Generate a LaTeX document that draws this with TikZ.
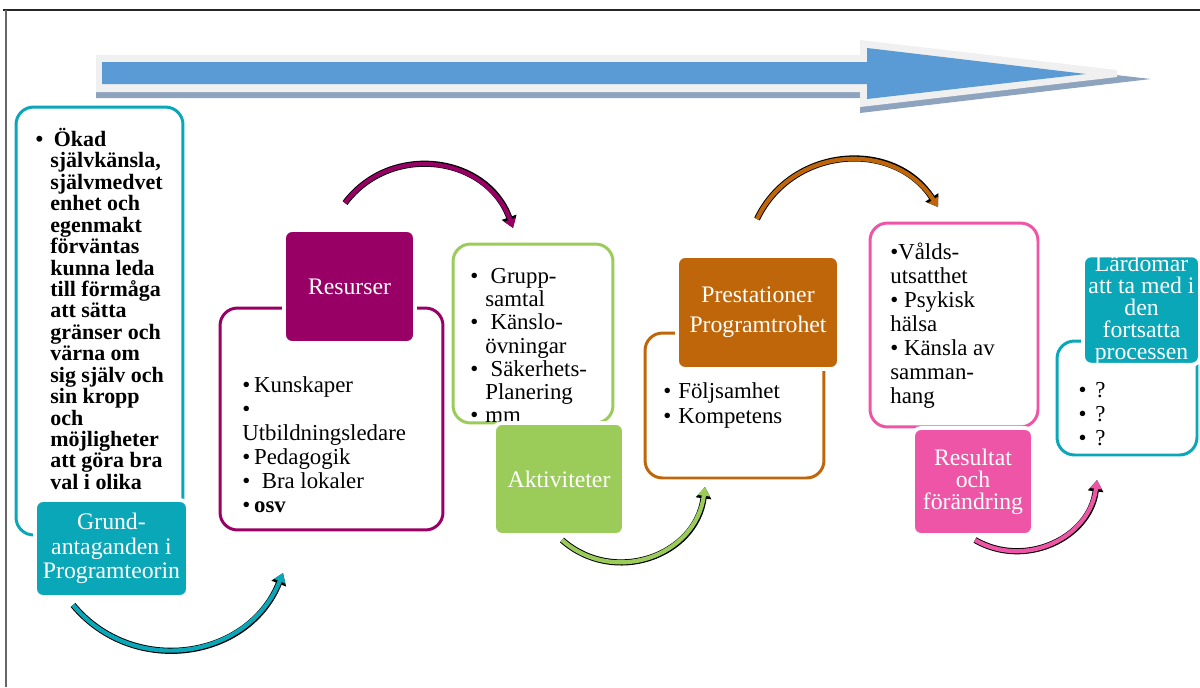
\documentclass[tikz,border=0pt]{standalone}
\usepackage{fontspec}
\setmainfont{Liberation Serif}
\usepackage{tikz}
\usetikzlibrary{calc}
\usetikzlibrary{arrows.meta}

\definecolor{tealc}{HTML}{0AA7B8}
\definecolor{plum}{HTML}{990066}
\definecolor{leaf}{HTML}{9BCB59}
\definecolor{rust}{HTML}{C0660A}
\definecolor{rose}{HTML}{EE55A6}
\definecolor{arrowblue}{HTML}{5B9BD5}
\definecolor{arrowrim}{HTML}{F0F0F0}
\definecolor{arrowshade}{HTML}{8EA4BE}

\newcommand{\ts}{\rule{0pt}{12pt}}
\newcommand{\bul}{\llap{\textbullet\hspace{4pt}}}

\begin{document}
\begin{tikzpicture}[x=0.02cm, y=-0.02cm,
  outline/.style={draw=#1, line width=1.7pt, rounded corners=0.35cm, fill=white, inner sep=0pt},
  tagbox/.style={fill=#1, draw=white, line width=2.2pt, rounded corners=0.16cm, text=white,
    align=center, inner sep=0pt, font=\fontsize{13.5}{14}\selectfont},
  itemtext/.style={anchor=north west, inner sep=0pt, align=left},
  bendarrow/.style={draw=#1, line width=2.4pt, -{Triangle[length=5pt,width=6.5pt]},
    preaction={draw=black, line width=3.5pt, -{Triangle[length=6.5pt,width=8.5pt]}}}]

\useasboundingbox (0,0) rectangle (1200,687);

\draw[line width=1pt, black!85] (3,10) -- (1200,10);
\draw[line width=1pt, black!60] (6,10) -- (6,687);

\fill[arrowshade] (96,62) -- (860,62) -- (860,46) -- (1151,79) -- (860,113) -- (860,98) -- (96,98) -- cycle;
\fill[arrowrim] (96,55) -- (860,55) -- (860,40) -- (1117,70) -- (1117,77) -- (860,107) -- (860,92) -- (96,92) -- cycle;
\fill[arrowblue] (102,62) -- (867,62) -- (867,48) -- (1086,74) -- (867,99) -- (867,84) -- (102,84) -- cycle;

\coordinate (g0) at (73,605);
\coordinate (g1) at (283,573);
\coordinate (r0) at (345,203);
\coordinate (r1) at (513,228);
\coordinate (a0) at (562,540);
\coordinate (a1) at (705,487);
\coordinate (p0) at (757,219);
\coordinate (p1) at (938,207);
\coordinate (e0) at (975,540);
\coordinate (e1) at (1097,480);

\draw[bendarrow=tealc] (g0) .. controls (133,677) and (248,660) .. (g1);
\draw[bendarrow=plum] (r0) .. controls (391,142) and (487,156) .. (r1);
\draw[bendarrow=leaf] (a0) .. controls (614,586) and (696,556) .. (a1);
\draw[bendarrow=rust] (p0) .. controls (792,146) and (894,139) .. (p1);
\draw[bendarrow=rose] (e0) .. controls (1025,569) and (1090,538) .. (e1);

\node[outline=tealc, minimum width=3.34cm, minimum height=8.56cm] (grundbox) at (99.5,321) {};
\node[outline=plum, minimum width=4.46cm, minimum height=4.44cm] (resbox) at (331.5,419) {};
\node[outline=leaf, minimum width=3.2cm, minimum height=3.58cm] (aktbox) at (533,333.5) {};
\node[outline=rust, minimum width=3.58cm, minimum height=2.9cm] (prebox) at (734.5,405.5) {};
\node[outline=rose, minimum width=3.36cm, minimum height=4.08cm] (resultbox) at (954,325) {};
\node[outline=tealc, minimum width=2.8cm, minimum height=2.28cm] (larbox) at (1127,398) {};

\node[itemtext, font=\fontsize{12.5}{12.2}\selectfont\bfseries] (grundtext) at (50,125)
  {\ts\bul\hspace{2pt}Ökad\\självkänsla,\\självmedvet\\enhet och\\egenmakt\\förväntas\\kunna leda\\till förmåga\\att sätta\\gränser och\\värna om\\sig själv och\\sin kropp\\och\\möjligheter\\att göra bra\\val i olika};
\node[itemtext, font=\fontsize{13}{13.7}\selectfont] (restext) at (242,371)
  {\ts\textbullet\,Kunskaper\\\textbullet\\Utbildningsledare\\\textbullet\,Pedagogik\\\textbullet\ \ Bra lokaler\\\textbullet\,\textbf{osv}};
\node[itemtext, font=\fontsize{13}{13.2}\selectfont] (akttext) at (485,262)
  {\ts\bul\hspace{3pt}Grupp-\\samtal\\\bul\hspace{3pt}Känslo-\\övningar\\\bul\hspace{3pt}Säkerhets-\\Planering\\\bul mm};
\node[itemtext, font=\fontsize{13}{14.2}\selectfont] (pretext) at (678,377)
  {\ts\bul Följsamhet\\\bul Kompetens};
\node[itemtext, font=\fontsize{13}{13.7}\selectfont] (resulttext) at (890,238)
  {\ts\textbullet Vålds-\\utsatthet\\\textbullet\ Psykisk\\hälsa\\\textbullet\ Känsla av\\samman-\\hang};
\node[itemtext, font=\fontsize{13}{13.6}\selectfont] (lartext) at (1095,376)
  {\ts\llap{\textbullet\hspace{5pt}}?\\\llap{\textbullet\hspace{5pt}}?\\\llap{\textbullet\hspace{5pt}}?};

\node[tagbox=tealc, minimum width=3.06cm, minimum height=1.94cm] (grundlbl) at (111.5,548.5) {Grund-\\antaganden i\\Programteorin};
\node[tagbox=plum, minimum width=2.62cm, minimum height=2.26cm] (reslbl) at (349.5,286.5) {Resurser};
\node[tagbox=leaf, minimum width=2.6cm, minimum height=2.24cm] (aktlbl) at (559,479) {Aktiviteter};
\node[tagbox=rust, minimum width=3.24cm, minimum height=2.26cm, font=\fontsize{13.5}{17}\selectfont] (prelbl) at (758,312.5) {Prestationer\\Programtrohet};
\node[tagbox=rose, minimum width=2.4cm, minimum height=2.14cm, font=\fontsize{13.5}{12.5}\selectfont] (resultlbl) at (973,481.5) {Resultat\\och\\förändring};
\node[tagbox=tealc, minimum width=2.34cm, minimum height=2.08cm, font=\fontsize{13.5}{12.5}\selectfont] (larlbl) at (1141.5,310) {Lärdomar\\att ta med i\\den\\fortsatta\\processen};

\end{tikzpicture}
\end{document}
